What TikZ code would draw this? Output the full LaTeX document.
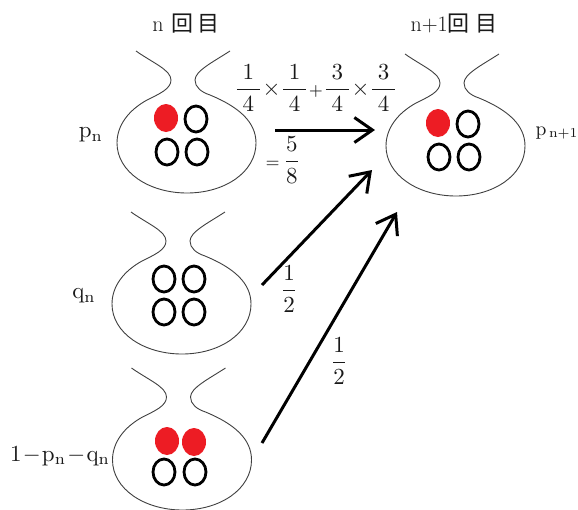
\documentclass[tikz,border=0pt]{standalone}
\usepackage{fontspec}
\newfontfamily\cjk{Noto Sans CJK JP}
\usetikzlibrary{arrows.meta}
\definecolor{ballred}{RGB}{237,28,36}
\tikzset{
  bagline/.style={draw=black!75,line width=0.9pt},
  ballopen/.style={draw=black,line width=2.8pt},
  ballfull/.style={fill=ballred,draw=none},
  bigarrow/.style={draw=black,line width=3pt,-{Straight Barb[length=18pt,width=25pt,line width=3pt]}},
  lab/.style={inner sep=0pt,text=black!90,scale=2.3},
  frac/.style={inner sep=0pt,text=black!90,scale=2.3},
  ttl/.style={inner sep=0pt,text=black!90,font=\fontsize{22}{24}\selectfont},
  bagpic/.pic={
    \draw[bagline] (-47,-29) .. controls (-30,-17) and (-12,-10) .. (-12,0)
      .. controls (-12,9) and (-24,14) .. (-36,20)
      .. controls (-54,30) and (-66,45) .. (-66,63)
      .. controls (-66,92) and (-34,113) .. (4,113)
      .. controls (42,113) and (73,92) .. (73,63)
      .. controls (73,42) and (56,27) .. (27,15)
      .. controls (18,12) and (12,7) .. (12,0)
      .. controls (12,-9) and (30,-18) .. (47,-29);
  }
}
\newcommand{\ballO}[2]{\draw[ballopen] (#1,#2) ellipse [x radius=11, y radius=13];}
\newcommand{\ballR}[2]{\fill[ballfull] (#1,#2) ellipse [x radius=12, y radius=14];}
\newcommand{\fr}[2]{\frac{\hspace{2.5pt}#1\hspace{2.5pt}}{\hspace{2.5pt}#2\hspace{2.5pt}}}
\begin{document}
\begin{tikzpicture}[x=1pt,y=-1pt]
\useasboundingbox (0,0) rectangle (578,509);
\fill[white] (0,0) rectangle (578,509);
% bags
\pic at (183,80) {bagpic};
\pic at (178,241) {bagpic};
\pic at (178.5,397) {bagpic};
\pic at (452,83) {bagpic};
% bag 1 balls
\ballR{166}{118}\ballO{196}{119}\ballO{167}{152}\ballO{197}{152}
% bag 2 balls
\ballO{164}{279}\ballO{194}{279}\ballO{164}{312}\ballO{194}{312}
% bag 3 balls
\ballR{167}{441}\ballR{194}{442}\ballO{164}{472}\ballO{195}{472}
% bag 4 balls
\ballR{438}{123}\ballO{468}{124}\ballO{439}{157}\ballO{469}{157}
% coordinates
\coordinate (a1s) at (275,130); \coordinate (a1e) at (375,130);
\coordinate (a2s) at (262,285); \coordinate (a2e) at (372,170);
\coordinate (a3s) at (262,443); \coordinate (a3e) at (397,212);
\draw[bigarrow] (a1s) -- (a1e);
\draw[bigarrow] (a2s) -- (a2e);
\draw[bigarrow] (a3s) -- (a3e);
% titles
\node[ttl] (t1) at (186,24) {n\hspace{0.35em}{\cjk 回\hspace{0.2em}目}};
\node[ttl] (t2) at (454,24) {n+1{\cjk 回\hspace{0.25em}目}};
% labels
\node[lab] (pn) at (91,135) {$\mathrm{p}_{\mathrm{n}}$};
\node[lab] (qn) at (84,296) {$\mathrm{q}_{\mathrm{n}}$};
\node[lab] (rest) at (60,456) {$1\!-\!\mathrm{p}_{\mathrm{n}}\!-\!\mathrm{q}_{\mathrm{n}}$};
\node[lab,scale=0.85] (pn1) at (557,133) {$\mathrm{p}_{\,\mathrm{n+1}}$};
\node[frac] (f1) at (316,88) {$\displaystyle\fr{1}{4}{\times}\fr{1}{4}{\scriptstyle+}\fr{3}{4}{\times}\fr{3}{4}$};
\node[frac] (f2) at (283,160) {$\displaystyle{\scriptstyle=}\,\frac{5}{8}$};
\node[frac] (h1) at (289,289) {$\displaystyle\frac{1}{2}$};
\node[frac] (h2) at (339,361) {$\displaystyle\frac{1}{2}$};
\end{tikzpicture}
\end{document}
